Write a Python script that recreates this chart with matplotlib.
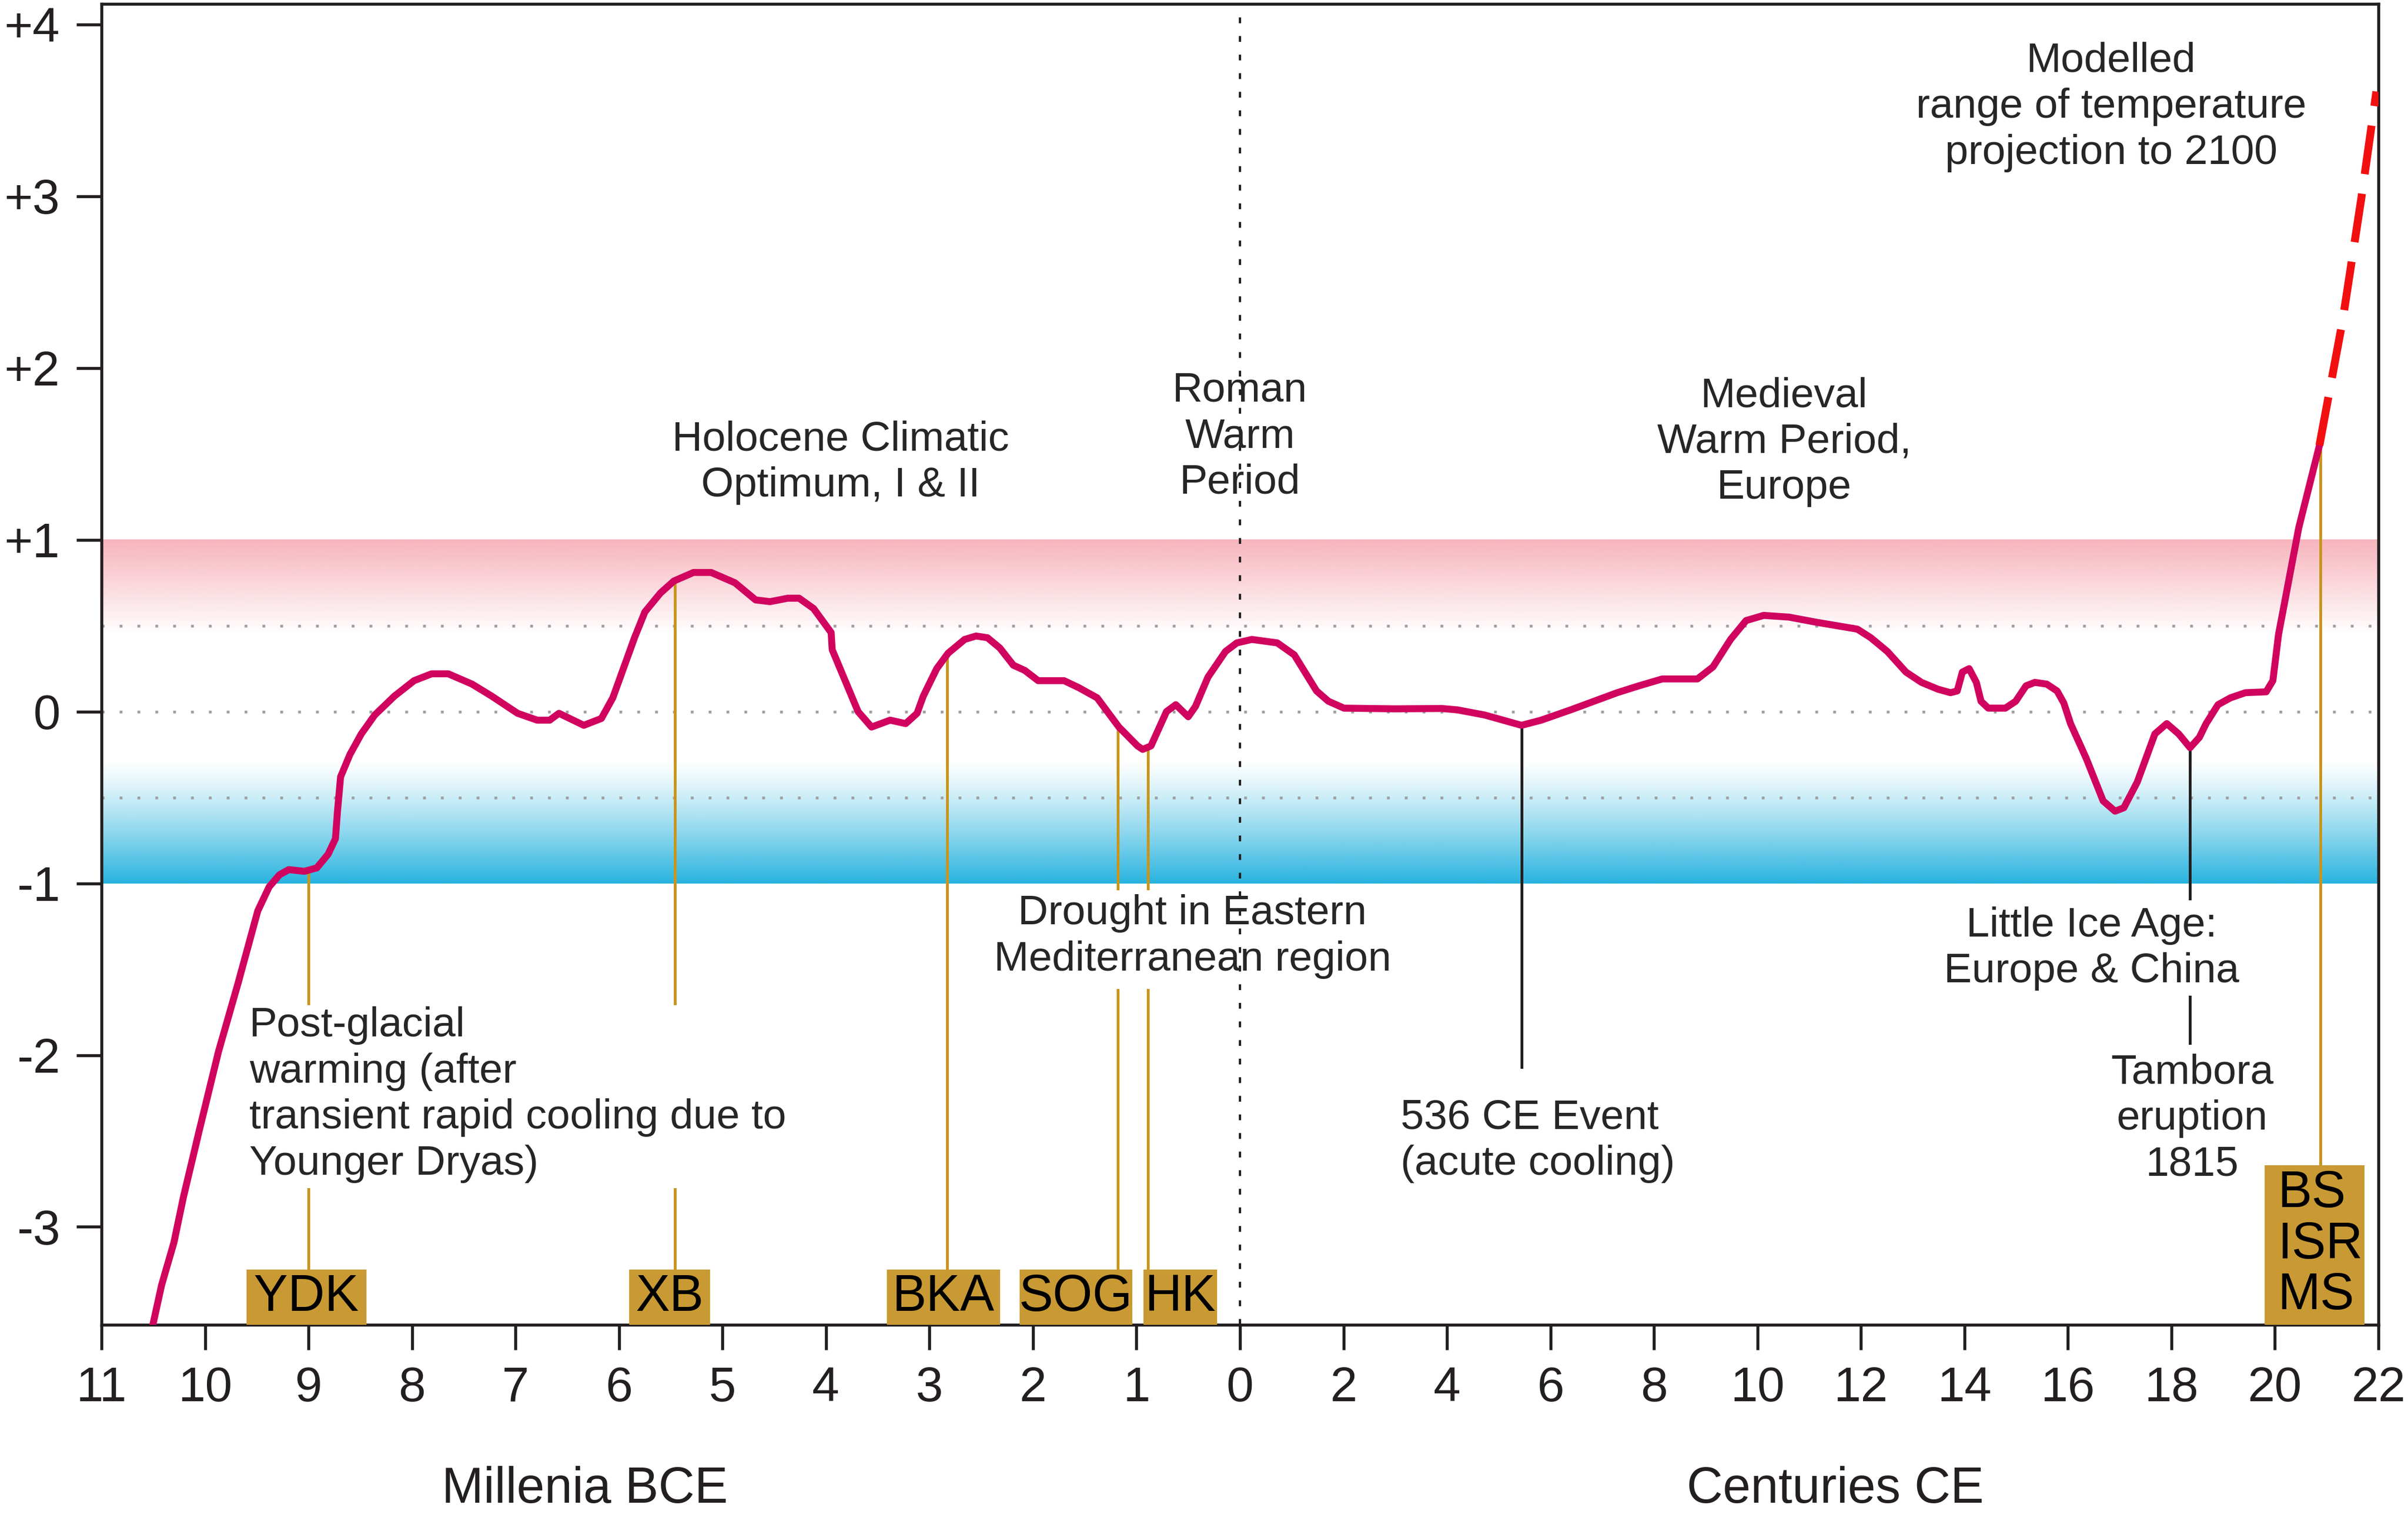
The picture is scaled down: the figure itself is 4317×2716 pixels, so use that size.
import numpy as np
import matplotlib.pyplot as plt
from matplotlib.patches import Rectangle
from matplotlib.colors import to_rgb

plt.rcParams['font.family'] = ['Liberation Sans', 'DejaVu Sans']

# Temperature anomaly curve (deg C). Negative years = BCE.
years = [-10500, -10420, -10300, -10210, -10060, -9870, -9680, -9490, -9380, -9280,
         -9190, -9040, -8920, -8810, -8740, -8720, -8690, -8600, -8490, -8360,
         -8170, -7980, -7810, -7650, -7420, -7230, -6980, -6790, -6670, -6580,
         -6340, -6170, -6060, -5940, -5850, -5750, -5600, -5470, -5280, -5110,
         -4880, -4680, -4540, -4370, -4260, -4120, -3950, -3940, -3690, -3560,
         -3380, -3230, -3120, -3060, -2930, -2820, -2660, -2550, -2440, -2320,
         -2190, -2080, -1950, -1700, -1560, -1380, -1170, -990, -940, -860,
         -710, -620, -500, -430, -310, -140, -30,
         23, 72, 105, 148, 171, 201, 299, 390, 420, 473,
         544, 582, 639, 684, 729, 771, 816, 884, 914, 948,
         978, 1012, 1061, 1114, 1193, 1219, 1251, 1287, 1317, 1349,
         1373, 1386, 1396, 1409, 1423, 1432, 1446, 1479, 1499, 1519,
         1536, 1559, 1579, 1592, 1605, 1635, 1668, 1691, 1708, 1734,
         1768, 1791, 1814, 1836, 1854, 1867, 1890, 1914, 1943, 1983,
         1996, 2007, 2046, 2086]
temps = [-3.56, -3.34, -3.09, -2.83, -2.45, -1.98, -1.58, -1.16, -1.02, -0.95,
         -0.92, -0.93, -0.91, -0.83, -0.74, -0.58, -0.38, -0.25, -0.13, -0.02,
         0.09, 0.18, 0.22, 0.22, 0.16, 0.09, -0.01, -0.05, -0.05, -0.01,
         -0.08, -0.04, 0.08, 0.28, 0.43, 0.58, 0.69, 0.76, 0.81, 0.81,
         0.75, 0.65, 0.64, 0.66, 0.66, 0.60, 0.46, 0.36, 0.00, -0.09,
         -0.05, -0.07, -0.01, 0.09, 0.25, 0.34, 0.42, 0.44, 0.43, 0.37,
         0.27, 0.24, 0.18, 0.18, 0.14, 0.08, -0.09, -0.20, -0.22, -0.20,
         0.00, 0.04, -0.03, 0.03, 0.20, 0.35, 0.40,
         0.42, 0.40, 0.33, 0.12, 0.06, 0.02, 0.016, 0.018, 0.01, -0.02,
         -0.08, -0.05, 0.01, 0.06, 0.11, 0.15, 0.19, 0.19, 0.26, 0.42,
         0.53, 0.56, 0.55, 0.52, 0.48, 0.43, 0.35, 0.23, 0.17, 0.13,
         0.11, 0.12, 0.23, 0.25, 0.17, 0.06, 0.02, 0.02, 0.06, 0.15,
         0.17, 0.16, 0.12, 0.05, -0.07, -0.27, -0.52, -0.58, -0.56, -0.41,
         -0.13, -0.07, -0.13, -0.21, -0.15, -0.07, 0.04, 0.08, 0.11, 0.115,
         0.18, 0.45, 1.07, 1.55]

# modelled projection (dashed)
proj_years = [2086, 2131, 2167, 2196]
proj_temps = [1.55, 2.28, 2.99, 3.61]

# axis ticks
bce_ticks = [-11000, -10000, -9000, -8000, -7000, -6000, -5000, -4000, -3000, -2000, -1000, 0]
bce_labels = ['11', '10', '9', '8', '7', '6', '5', '4', '3', '2', '1', '0']
ce_ticks = [200, 400, 600, 800, 1000, 1200, 1400, 1600, 1800, 2000, 2200]
ce_labels = ['2', '4', '6', '8', '10', '12', '14', '16', '18', '20', '22']
y_ticks = [-3, -2, -1, 0, 1, 2, 3, 4]
y_labels = ['-3', '-2', '-1', '0', '+1', '+2', '+3', '+4']

# site boxes along the bottom
site_names = ['YDK', 'XB', 'BKA', 'SOG', 'HK', 'BS\nISR\nMS']
site_years = [-9000, -5460, -2830, -1180, -890, 2088]
box_left = [-9600, -5900, -3410, -2130, -930, 1980]
box_right = [-8440, -5120, -2320, -1040, -220, 2173]
box_top = [-3.25, -3.25, -3.25, -3.25, -3.25, -2.64]
line_gaps = [(-1.70, -2.78), (-1.70, -2.78), None, (-1.03, -1.62), (-1.03, -1.62), None]

# black event lines
event_years = [544, 1836]
event_ends = [-2.07, -1.09]

notes = [
    ("Holocene Climatic\nOptimum, I & II", -3860, 1.45, 'center'),
    ("Roman\nWarm\nPeriod", 0, 1.60, 'center'),
    ("Medieval\nWarm Period,\nEurope", 1052, 1.57, 'center'),
    ("Modelled\nrange of temperature\nprojection to 2100", 1684, 3.52, 'center'),
    ("Drought in Eastern\nMediterranean region", -460, -1.31, 'center'),
    ("Post-glacial\nwarming (after\ntransient rapid cooling due to\nYounger Dryas)", -9570, -2.23, 'left'),
    ("536 CE Event\n(acute cooling)", 310, -2.50, 'left'),
    ("Little Ice Age:\nEurope & China", 1646, -1.38, 'center'),
    ("Tambora\neruption\n1815", 1840, -2.37, 'center'),
]

YMIN, YMAX = -3.57, 4.12
INK = '#231f20'
TXT = '#262626'
GOLD = '#c9951c'
BOX = '#c99a34'
CURVE = '#d0035f'


def to_pos(year):
    # millennia BCE and centuries CE share one axis at different scales
    year = np.asarray(year, dtype=float)
    return np.where(year < 0, year / 1000.0, year / 200.0)


def band(ax, y0, y1, color, top_strong):
    t = np.linspace(0, 1, 256)
    alpha = t if top_strong else (1 - t) ** 1.2
    img = np.zeros((256, 1, 4))
    img[:, 0, :3] = to_rgb(color)
    img[:, 0, 3] = alpha
    ax.imshow(img, extent=[-11, 11, y0, y1], origin='lower', aspect='auto',
              interpolation='bilinear', zorder=0)


fig = plt.figure(figsize=(4317 / 300, 2716 / 300), dpi=300)
ax = fig.add_axes([182 / 4317, 1 - 2375 / 2716, (4264 - 182) / 4317, (2375 - 7) / 2716])

band(ax, 0.45, 1.0, '#f7b4bd', True)
band(ax, -1.0, -0.28, '#27b3df', False)

for yv in [0.5, 0, -0.5]:
    ax.axhline(yv, color='#a0a0a0', lw=1.2, linestyle=(0, (1, 5.4)), zorder=1)
ax.axvline(0, color=INK, lw=1.0, linestyle=(0, (2.5, 5.5)), zorder=1)

curve_x = to_pos(years)

# site lines and boxes
for name, yr, x0, x1, top, gap in zip(site_names, site_years, box_left, box_right, box_top, line_gaps):
    xp = float(to_pos(yr))
    y_curve = np.interp(xp, curve_x, temps)
    if gap is None:
        ax.plot([xp, xp], [y_curve, top], color=GOLD, lw=1.2, zorder=2)
    else:
        ax.plot([xp, xp], [y_curve, gap[0]], color=GOLD, lw=1.2, zorder=2)
        ax.plot([xp, xp], [gap[1], top], color=GOLD, lw=1.2, zorder=2)
    px0, px1 = float(to_pos(x0)), float(to_pos(x1))
    ax.add_patch(Rectangle((px0, YMIN), px1 - px0, top - YMIN, facecolor=BOX,
                           edgecolor='none', zorder=3))
    if '\n' in name:
        ax.text(float(to_pos(2005)), (top + YMIN) / 2, name, ha='left', va='center',
                fontsize=22, color='black', linespacing=1.08, zorder=4)
    else:
        ax.text((px0 + px1) / 2, (top + YMIN) / 2, name, ha='center', va='center',
                fontsize=22, color='black', zorder=4)

# black event lines
for yr, end in zip(event_years, event_ends):
    xp = float(to_pos(yr))
    ax.plot([xp, xp], [np.interp(xp, curve_x, temps), end], color=INK, lw=1.2, zorder=2)
ax.plot([float(to_pos(1836))] * 2, [-1.66, -1.93], color=INK, lw=1.2, zorder=2)

ax.plot(curve_x, temps, color=CURVE, lw=3.0, solid_joinstyle='round', zorder=5)
ax.plot(to_pos(proj_years), proj_temps, color='#f20f0f', lw=3.4, linestyle=(0, (6.2, 2.5)), zorder=5)

for text, yr, yv, ha in notes:
    ax.text(float(to_pos(yr)), yv, text, ha=ha, va='center', multialignment=ha,
            fontsize=18, color=TXT, linespacing=1.25, zorder=4)

ax.set_xlim(-11, 11)
ax.set_ylim(YMIN, YMAX)
ax.set_xticks(list(to_pos(bce_ticks)) + list(to_pos(ce_ticks)))
ax.set_xticklabels(bce_labels + ce_labels)
ax.set_yticks(y_ticks)
ax.set_yticklabels(y_labels)
ax.tick_params(axis='both', direction='out', length=10.8, width=1.3, color=INK,
               labelsize=21, labelcolor=INK)
ax.tick_params(axis='x', pad=7)
ax.tick_params(axis='y', pad=7)
for sp in ax.spines.values():
    sp.set_color(INK)
    sp.set_linewidth(1.3)

xt = ax.get_xaxis_transform()
ax.text(float(to_pos(-6330)), -0.1246, "Millenia BCE", transform=xt, ha='center', va='center',
        fontsize=21.5, color=INK)
ax.text(float(to_pos(1150)), -0.1246, "Centuries CE", transform=xt, ha='center', va='center',
        fontsize=21.5, color=INK)

fig.savefig('out.png', dpi=300)
